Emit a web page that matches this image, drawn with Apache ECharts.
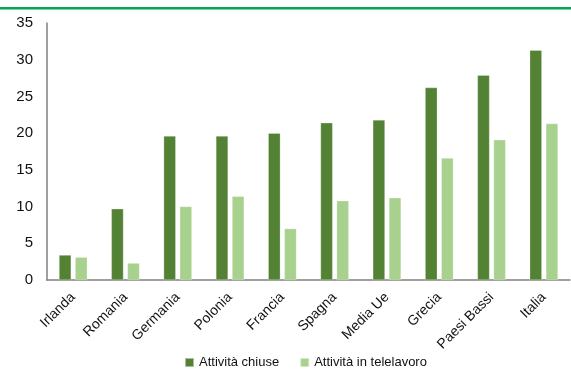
<!DOCTYPE html>
<html>
<head>
<meta charset="utf-8">
<script src="https://cdn.jsdelivr.net/npm/echarts@6/dist/echarts.min.js"></script>
<style>
  html, body { margin: 0; padding: 0; background: #fff; }
  #chart { width: 571px; height: 374px; }
</style>
</head>
<body>
<div id="chart"></div>
<script>
// Paesi e valori (%)
const categories = ['Irlanda', 'Romania', 'Germania', 'Polonia', 'Francia', 'Spagna', 'Media Ue', 'Grecia', 'Paesi Bassi', 'Italia'];
const attivitaChiuse = [3.4, 9.7, 19.6, 19.6, 20.0, 21.4, 21.8, 26.2, 27.9, 31.3];
const attivitaTelelavoro = [3.1, 2.3, 10.0, 11.4, 7.0, 10.8, 11.2, 16.6, 19.1, 21.3];
const seriesNames = ['Attività chiuse', 'Attività in telelavoro'];

const FONT = '"Liberation Sans", Arial, sans-serif';

const chart = echarts.init(document.getElementById('chart'), null, { renderer: 'canvas' });
chart.setOption({
  animation: false,
  textStyle: { fontFamily: FONT },
  graphic: [{
    type: 'rect',
    shape: { x: 0, y: 7, width: 571, height: 2.5 },
    style: { fill: '#00a651' },
    silent: true
  }],
  grid: { left: 47, right: 1, top: 23, bottom: 94, containLabel: false },
  legend: {
    top: 356,
    left: 184,
    padding: 0,
    itemWidth: 9,
    itemHeight: 9,
    itemGap: 20,
    icon: 'rect',
    textStyle: { fontFamily: FONT, fontSize: 13, color: '#111' },
    data: seriesNames
  },
  xAxis: {
    type: 'category',
    data: categories,
    axisLine: { lineStyle: { color: '#808080', width: 1.5 } },
    axisTick: { show: false },
    axisLabel: {
      rotate: 45,
      interval: 0,
      margin: 15,
      fontSize: 14,
      color: '#111',
      fontFamily: FONT
    }
  },
  yAxis: {
    type: 'value',
    min: 0,
    max: 35,
    interval: 5,
    splitLine: { show: false },
    axisLine: { show: true, lineStyle: { color: '#808080', width: 1.5 } },
    axisTick: { show: false },
    axisLabel: { margin: 14, fontSize: 15, color: '#111', fontFamily: FONT }
  },
  series: [
    {
      name: seriesNames[0],
      type: 'bar',
      data: attivitaChiuse,
      barGap: '33%',
      barCategoryGap: '46%',
      itemStyle: { color: '#548235', borderColor: 'rgba(255,255,255,0.5)', borderWidth: 0.5 }
    },
    {
      name: seriesNames[1],
      type: 'bar',
      data: attivitaTelelavoro,
      itemStyle: { color: '#a9d18e', borderColor: 'rgba(255,255,255,0.5)', borderWidth: 0.5 }
    }
  ]
});
</script>
</body>
</html>
